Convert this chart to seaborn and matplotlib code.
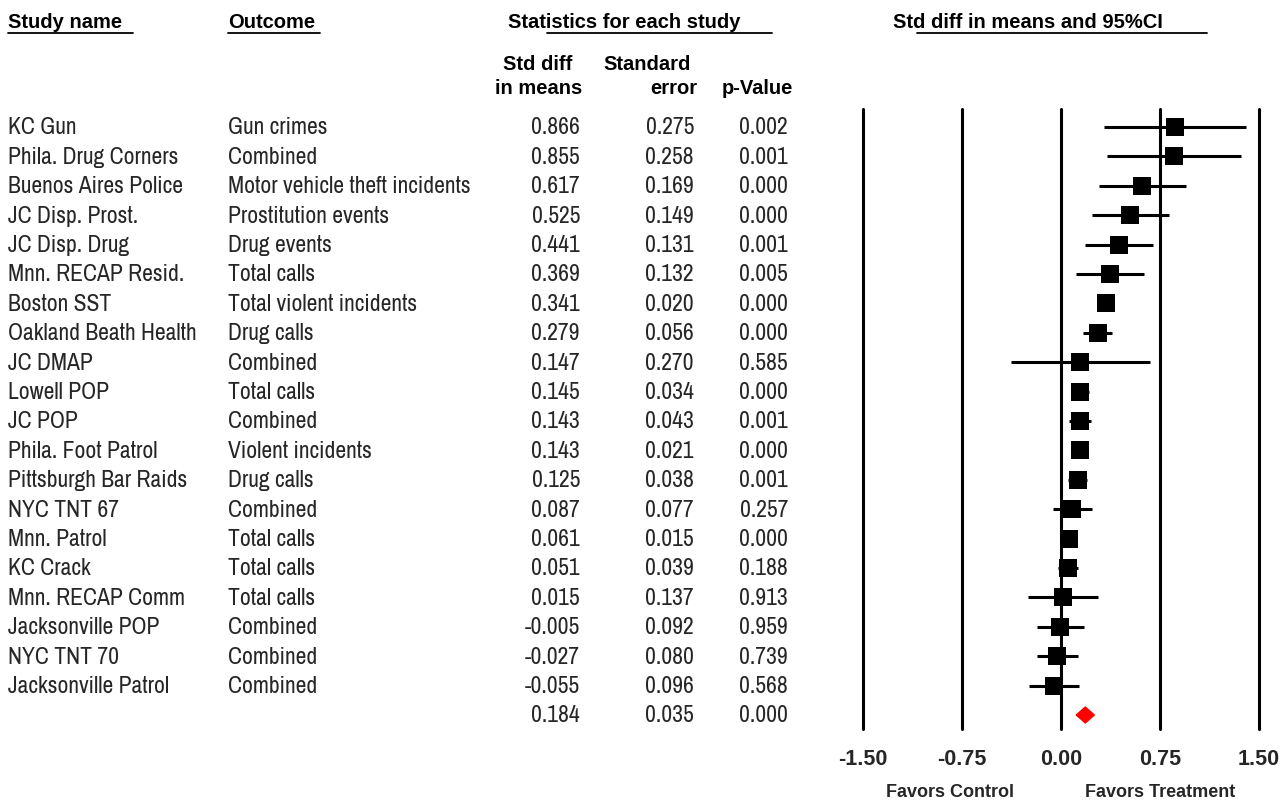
import matplotlib
matplotlib.use("Agg")
import matplotlib.pyplot as plt
import seaborn as sns
import numpy as np
import pandas as pd
from matplotlib import font_manager

studies = ["KC Gun", "Phila. Drug Corners", "Buenos Aires Police", "JC Disp. Prost.",
           "JC Disp. Drug", "Mnn. RECAP Resid.", "Boston SST", "Oakland Beath Health",
           "JC DMAP", "Lowell POP", "JC POP", "Phila. Foot Patrol", "Pittsburgh Bar Raids",
           "NYC TNT 67", "Mnn. Patrol", "KC Crack", "Mnn. RECAP Comm", "Jacksonville POP",
           "NYC TNT 70", "Jacksonville Patrol"]
outcomes = ["Gun crimes", "Combined", "Motor vehicle theft incidents", "Prostitution events",
            "Drug events", "Total calls", "Total violent incidents", "Drug calls",
            "Combined", "Total calls", "Combined", "Violent incidents", "Drug calls",
            "Combined", "Total calls", "Total calls", "Total calls", "Combined",
            "Combined", "Combined"]
std_diff = [0.866, 0.855, 0.617, 0.525, 0.441, 0.369, 0.341, 0.279, 0.147, 0.145,
            0.143, 0.143, 0.125, 0.087, 0.061, 0.051, 0.015, -0.005, -0.027, -0.055]
std_err = [0.275, 0.258, 0.169, 0.149, 0.131, 0.132, 0.020, 0.056, 0.270, 0.034,
           0.043, 0.021, 0.038, 0.077, 0.015, 0.039, 0.137, 0.092, 0.080, 0.096]
p_values = [0.002, 0.001, 0.000, 0.000, 0.001, 0.005, 0.000, 0.000, 0.585, 0.000,
            0.001, 0.000, 0.001, 0.257, 0.000, 0.188, 0.913, 0.959, 0.739, 0.568]
summary_est, summary_se, summary_p = 0.184, 0.035, 0.000
x_ticks = [-1.50, -0.75, 0.00, 0.75, 1.50]

sns.set_theme(style="white")
avail = {f.name for f in font_manager.fontManager.ttflist}
reg_fam = [f for f in ["Archivo Narrow", "Liberation Sans", "DejaVu Sans"] if f in avail]
bold_fam = [f for f in ["Liberation Sans", "DejaVu Sans"] if f in avail]
plt.rcParams["font.family"] = reg_fam

W, H = 1286, 803
fig = plt.figure(figsize=(W / 100, H / 100), dpi=100)

# overlay axes in pixel coordinates for table text
tab = fig.add_axes([0, 0, 1, 1])
tab.set_xlim(0, W)
tab.set_ylim(H, 0)
tab.axis("off")

row0, dy = 128, 29.4
n = len(studies)
fs = 17
bfs = 14.5

def hdr(x, y, s, ha="left", size=bfs):
    tab.text(x, y, s, ha=ha, va="center", fontsize=size, fontweight="bold",
             family=bold_fam, color="black")

hdr(8, 22, "Study name")
tab.plot([8, 133], [34, 34], color="black", lw=1.3)
hdr(228, 22, "Outcome")
tab.plot([228, 320], [34, 34], color="black", lw=1.3)
hdr(508, 22, "Statistics for each study")
tab.plot([547, 772], [34, 34], color="black", lw=1.3)
hdr(893, 22, "Std diff in means and 95%CI")
tab.plot([917, 1207], [34, 34], color="black", lw=1.3)

hdr(538, 64, "Std diff", ha="center")
hdr(539, 89, "in means", ha="center")
hdr(647, 64, "Standard", ha="center")
hdr(697, 89, "error", ha="right")
hdr(793, 89, "p-Value", ha="right")

for i in range(n):
    y = row0 + i * dy
    tab.text(8, y, studies[i], ha="left", va="center", fontsize=fs)
    tab.text(228, y, outcomes[i], ha="left", va="center", fontsize=fs)
    tab.text(580, y, f"{std_diff[i]:.3f}", ha="right", va="center", fontsize=fs)
    tab.text(694, y, f"{std_err[i]:.3f}", ha="right", va="center", fontsize=fs)
    tab.text(788, y, f"{p_values[i]:.3f}", ha="right", va="center", fontsize=fs)
ys = row0 + n * dy
tab.text(580, ys, f"{summary_est:.3f}", ha="right", va="center", fontsize=fs)
tab.text(694, ys, f"{summary_se:.3f}", ha="right", va="center", fontsize=fs)
tab.text(788, ys, f"{summary_p:.3f}", ha="right", va="center", fontsize=fs)

# forest axes
x0, x1 = 863, 1259
ytop, ybot = 110, 730
ax = fig.add_axes([x0 / W, 1 - ybot / H, (x1 - x0) / W, (ybot - ytop) / H])
ax.set_xlim(-1.5, 1.5)
ax.set_ylim((ybot - row0) / dy, (ytop - row0) / dy)
ax.patch.set_alpha(0)
for s in ax.spines.values():
    s.set_visible(False)

for t in x_ticks:
    ax.axvline(t, color="black", lw=2.2, zorder=1, clip_on=False)

df = pd.DataFrame({"est": std_diff, "se": std_err, "row": np.arange(n)})
df["lo"] = df["est"] - 1.96 * df["se"]
df["hi"] = df["est"] + 1.96 * df["se"]
ax.hlines(df["row"], df["lo"], df["hi"], color="black", lw=2.2, zorder=2, clip_on=False)
sns.scatterplot(data=df, x="est", y="row", marker="s", s=150, color="black",
                edgecolor="black", linewidth=0, ax=ax, zorder=3, legend=False, clip_on=False)

lo = summary_est - 1.96 * summary_se
hi = summary_est + 1.96 * summary_se
ax.fill([lo, summary_est, hi, summary_est], [n, n - 0.27, n, n + 0.27],
        color="red", zorder=3, clip_on=False)

ax.set_xticks(x_ticks)
ax.set_xticklabels([f"{t:.2f}" for t in x_ticks], fontsize=15.5, fontweight="bold",
                   family=bold_fam)
ax.tick_params(axis="x", length=0, pad=14)
ax.set_yticks([])
ax.set_xlabel("")
ax.set_ylabel("")

tab.text(950, 793, "Favors Control", ha="center", va="center", fontsize=13,
         fontweight="bold", family=bold_fam)
tab.text(1160, 793, "Favors Treatment", ha="center", va="center", fontsize=13,
         fontweight="bold", family=bold_fam)

fig.savefig("out.png", dpi=100)
